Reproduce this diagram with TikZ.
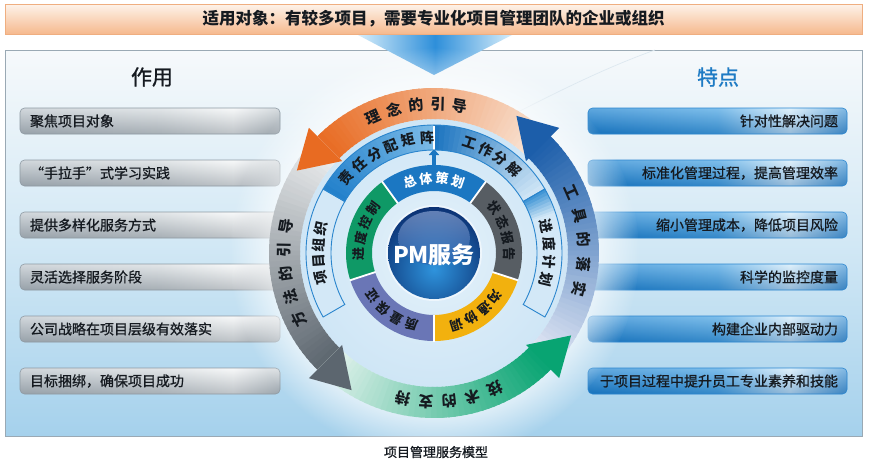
\documentclass[tikz,border=0pt]{standalone}
\usepackage{fontspec}
\setmainfont{Noto Sans CJK SC}
\newfontfamily\medfont[FakeBold=0.9]{Noto Sans CJK SC}
\usetikzlibrary{arrows.meta,fadings}

\definecolor{panelTop}{HTML}{F6F9FB}
\definecolor{panelMid}{HTML}{D2E8F5}
\definecolor{panelBot}{HTML}{A5D1EC}
\definecolor{panelLine}{HTML}{9AA9B4}
\definecolor{banTop}{HTML}{FDF3EA}
\definecolor{banBot}{HTML}{F6B98E}
\definecolor{banLine}{HTML}{EFAE80}
\definecolor{funLight}{HTML}{D6EDFA}
\definecolor{funDark}{HTML}{2E8FDA}
\definecolor{headBlue}{HTML}{1E7BC4}
\definecolor{innerIn}{HTML}{E4F1FA}
\definecolor{innerOut}{HTML}{CFE6F6}
\definecolor{orT}{HTML}{F9E6D8}
\definecolor{orH}{HTML}{E86B22}
\definecolor{blT}{HTML}{E4E8F5}
\definecolor{blH}{HTML}{1C5EAA}
\definecolor{grT}{HTML}{EEF0F1}
\definecolor{grH}{HTML}{5C666F}
\definecolor{gnT}{HTML}{E5F3EE}
\definecolor{gnH}{HTML}{08A472}
\definecolor{segBlue}{HTML}{1B77C2}
\definecolor{segGray}{HTML}{575D63}
\definecolor{segYel}{HTML}{F2B10E}
\definecolor{segPur}{HTML}{6A76B6}
\definecolor{segGrn}{HTML}{0F9966}
\definecolor{midDark}{HTML}{1A73BF}
\definecolor{midMed}{HTML}{2280CB}
\definecolor{midMedL}{HTML}{7DBCE8}
\definecolor{midEdge}{HTML}{3A92D4}
\definecolor{midLight}{HTML}{D3E8F7}
\definecolor{midLine}{HTML}{2A85CD}
\definecolor{sphOut}{HTML}{0A2E70}
\definecolor{sphIn}{HTML}{2F94DD}
\definecolor{sphHi}{HTML}{A8BCE6}
\definecolor{sphHiB}{HTML}{2A5AA8}
\definecolor{txt}{HTML}{151A20}
\definecolor{lbA}{HTML}{BAC3CA}
\definecolor{lbB}{HTML}{D3D9DD}
\definecolor{lbC}{HTML}{F4F6F7}
\definecolor{lbD}{HTML}{C0C8CE}
\definecolor{lbShade}{HTML}{56626C}
\definecolor{lbLine}{HTML}{8E9AA3}
\definecolor{rbA}{HTML}{1A82D1}
\definecolor{rbB}{HTML}{46A3E3}
\definecolor{rbC}{HTML}{D2EBFA}
\definecolor{rbD}{HTML}{4B9AD7}
\definecolor{rbShade}{HTML}{0C4A8A}
\definecolor{rbLine}{HTML}{2C86CF}
\definecolor{glossLine}{HTML}{DDE8F0}

\pgfdeclarehorizontalshading{lboxsh}{100bp}{color(0bp)=(lbA); color(25bp)=(lbA); color(52bp)=(lbB); color(66bp)=(lbC); color(75bp)=(lbD); color(100bp)=(lbD)}
\pgfdeclarehorizontalshading{rboxsh}{100bp}{color(0bp)=(rbA); color(25bp)=(rbA); color(50bp)=(rbB); color(64bp)=(rbC); color(75bp)=(rbD); color(100bp)=(rbD)}

% annular sector path
\newcommand\sect[4]{(#1:#3) arc[start angle=#1, end angle=#2, radius=#3] -- (#2:#4) arc[start angle=#2, end angle=#1, radius=#4] -- cycle}

% angular gradient sector
\newcommand\gradsector[7]{%
  \foreach \idx in {1,...,#7}{%
    \pgfmathsetmacro\aA{#1+(#2-#1)*(\idx-1)/#7}%
    \pgfmathsetmacro\aB{#1+(#2-#1)*(\idx+0.35)/#7}%
    \pgfmathtruncatemacro\pc{100*(\idx-0.5)/#7}%
    \fill[#6!\pc!#5] \sect{\aA}{\aB}{#3}{#4};
  }}

% text along an arc, read clockwise, tops outward
\newcommand\arctext[7]{%
  \foreach \ch [count=\idx from 0] in {#6}{%
    \pgfmathsetmacro\myang{#2+(#5-1)/2*#3-\idx*#3}%
    \node[#7, rotate=\myang-90] (#1\idx) at (\myang:#4) {\ch};
  }}

\begin{document}
\begin{tikzpicture}[x=1pt,y=1pt,
  lbox/.style={minimum width=260pt, minimum height=26pt, text width=240pt, align=left,
    inner xsep=10pt, inner ysep=0pt, rounded corners=4.5pt, draw=lbLine, line width=0.6pt,
    shade, shading=lboxsh, text=txt,
    font=\medfont\fontsize{14}{16}\selectfont,
    path picture={\shade[top color=white, bottom color=lbShade, fill opacity=0.35]
      (path picture bounding box.north west) rectangle (path picture bounding box.south east);}},
  rbox/.style={minimum width=259pt, minimum height=26pt, text width=241pt, align=right,
    inner xsep=9pt, inner ysep=0pt, rounded corners=4.5pt, draw=rbLine, line width=0.6pt,
    shade, shading=rboxsh, text=txt,
    font=\medfont\fontsize{14}{16}\selectfont,
    path picture={\shade[top color=white, bottom color=rbShade, fill opacity=0.3]
      (path picture bounding box.north west) rectangle (path picture bounding box.south east);}},
  bigtxt/.style={inner sep=0pt, text=txt, font=\bfseries\fontsize{15}{15}\selectfont},
  midtxt/.style={inner sep=0pt, text=txt, font=\bfseries\fontsize{14}{14}\selectfont},
  inntxt/.style={inner sep=0pt, text=txt, font=\bfseries\fontsize{13}{13}\selectfont},
  inntxtw/.style={inntxt, text=white},
]
\useasboundingbox (0,0) rectangle (875,-463);
\fill[white] (0,0) rectangle (875,-463);

% main panel
\shade[top color=panelTop, bottom color=panelBot, middle color=panelMid] (5,-50) rectangle (862,-436);
\draw[panelLine, line width=0.8pt] (5,-50) rectangle (862,-436);
\draw[glossLine, line width=0.7pt] (518,-112) .. controls (565,-88) and (610,-66) .. (655,-50);

% banner
\node[minimum width=857pt, minimum height=30pt, inner sep=0pt, top color=banTop, bottom color=banBot,
  draw=banLine, line width=0.6pt, text=txt, font=\bfseries\fontsize{16.5}{18}\selectfont]
  (banner) at (433.5,-19) {适用对象：有较多项目，需要专业化项目管理团队的企业或组织};

% funnel
\shade[left color=funLight, right color=funLight, middle color=funDark] (358,-35) -- (512,-35) -- (434,-75) -- cycle;

% headings
\node[font=\medfont\fontsize{21}{22}\selectfont, text=txt] (zuoyong) at (152,-77) {作用};
\node[font=\medfont\fontsize{21}{22}\selectfont, text=headBlue] (tedian) at (718,-77) {特点};

% left boxes
\foreach \t [count=\n] in {聚焦项目对象,“手拉手”式学习实践,提供多样化服务方式,灵活选择服务阶段,公司战略在项目层级有效落实,目标捆绑，确保项目成功}{
  \node[lbox] (L\n) at (150,{-69-52*\n}) {\t};
}
% right boxes
\foreach \t [count=\n] in {针对性解决问题,标准化管理过程，提高管理效率,缩小管理成本，降低项目风险,科学的监控度量,构建企业内部驱动力,于项目过程中提升员工专业素养和技能}{
  \node[rbox] (R\n) at (717.5,{-69-52*\n}) {\t};
}

% central diagram
\begin{scope}[shift={(434,-253)}]
  \fill[white, fill opacity=0.6, path fading=circle with fuzzy edge 20 percent] (0,0) circle (205);
  \shade[inner color=innerIn, outer color=innerOut] (0,0) circle (134);

  % big curved arrows: bands
  \gradsector{45}{135}{134}{165}{orT}{orH}{45}
  \gradsector{-45}{45}{134}{165}{blT}{blH}{45}
  \gradsector{135}{225}{134}{165}{grT}{grH}{45}
  \gradsector{225}{315}{134}{165}{gnT}{gnH}{45}
  % arrow heads
  \fill[orH] (135:130) -- (149:160) -- (135:177) -- cycle;
  \fill[blH] (45:130) -- (59:160) -- (45:177) -- cycle;
  \fill[grH] (225:130) -- (239:160) -- (225:177) -- cycle;
  \fill[gnH] (315:130) -- (329:160) -- (315:177) -- cycle;
  % texts on the big ring
  \arctext{ta}{97}{8.5}{149}{5}{理,念,的,引,导}{bigtxt}
  \arctext{tb}{5}{9.4}{150}{5}{工,具,的,落,实}{bigtxt}
  \arctext{tc}{188}{9.1}{150}{5}{方,法,的,引,导}{bigtxt}
  \arctext{td}{276}{9.1}{149}{5}{技,术,的,支,持}{bigtxt}

  % middle ring
  \gradsector{150}{90}{103}{128}{midMed}{midMedL}{24}
  \gradsector{90}{30}{103}{128}{midDark}{midLight}{24}
  \gradsector{30}{18}{103}{128}{midEdge}{midLight}{8}
  \fill[midLight] \sect{18.5}{-30}{103}{128};
  \fill[midLight] \sect{150}{210}{103}{128};
  \foreach \a/\b in {150/90, 90/30, 30/-30, 150/210}{
    \draw[midLine, line width=0.9pt] \sect{\a}{\b}{103}{128};
  }
  \draw[white, line width=1.2pt] (90:103.5) -- (90:127.5);
  \arctext{ma}{116.5}{9.2}{115.5}{6}{责,任,分,配,矩,阵}{midtxt}
  \arctext{mb}{59}{8.6}{115.5}{4}{工,作,分,解}{midtxt}
  \arctext{mc}{0}{8.9}{115.5}{4}{进,度,计,划}{midtxt}
  \arctext{md}{180}{8.2}{115.5}{4}{项,目,组,织}{midtxt}

  % small arrow from the inner ring to the middle ring
  \coordinate (aS) at (90:87);
  \coordinate (aE) at (90:104);
  \draw[segBlue, line width=3.2pt, -{Triangle[width=10pt,length=6pt]}] (aS) -- (aE);

  % inner ring
  \fill[segBlue] \sect{54}{126}{62}{88};
  \fill[segGrn]  \sect{126}{198}{62}{88};
  \fill[segPur]  \sect{198}{270}{62}{88};
  \fill[segYel]  \sect{270}{342}{62}{88};
  \fill[segGray] \sect{-18}{54}{62}{88};
  \foreach \a in {54,126,198,270,342}{
    \draw[white, line width=1.8pt] (\a:61.5) -- (\a:88.5);
  }
  \arctext{ia}{90}{12.5}{75}{4}{总,体,策,划}{inntxtw}
  \arctext{ib}{18}{12.5}{75}{4}{状,态,报,告}{inntxt}
  \arctext{ic}{-54}{12.5}{75}{4}{沟,通,协,调}{inntxt}
  \arctext{id}{-126}{12.5}{75}{4}{质,量,保,证}{inntxt}
  \arctext{ie}{162}{12.5}{75}{4}{进,度,控,制}{inntxt}

  % sphere
  \fill[white, fill opacity=0.5] (0,0) circle (48);
  \begin{scope}
    \clip (0,0) circle (46);
    \shade[inner color=sphIn, outer color=sphOut] (0,-16) circle (64);
    \shade[top color=sphHi, bottom color=sphHiB, fill opacity=0.55] (0,15) ellipse (36 and 27);
  \end{scope}
  \node[text=white, font=\bfseries\fontsize{23}{24}\selectfont, inner sep=0pt] (pm) at (0,-2) {PM服务};
\end{scope}

% caption
\node[text=txt, font=\medfont\fontsize{13}{14}\selectfont] (cap) at (436,-452) {项目管理服务模型};
\end{tikzpicture}
\end{document}
